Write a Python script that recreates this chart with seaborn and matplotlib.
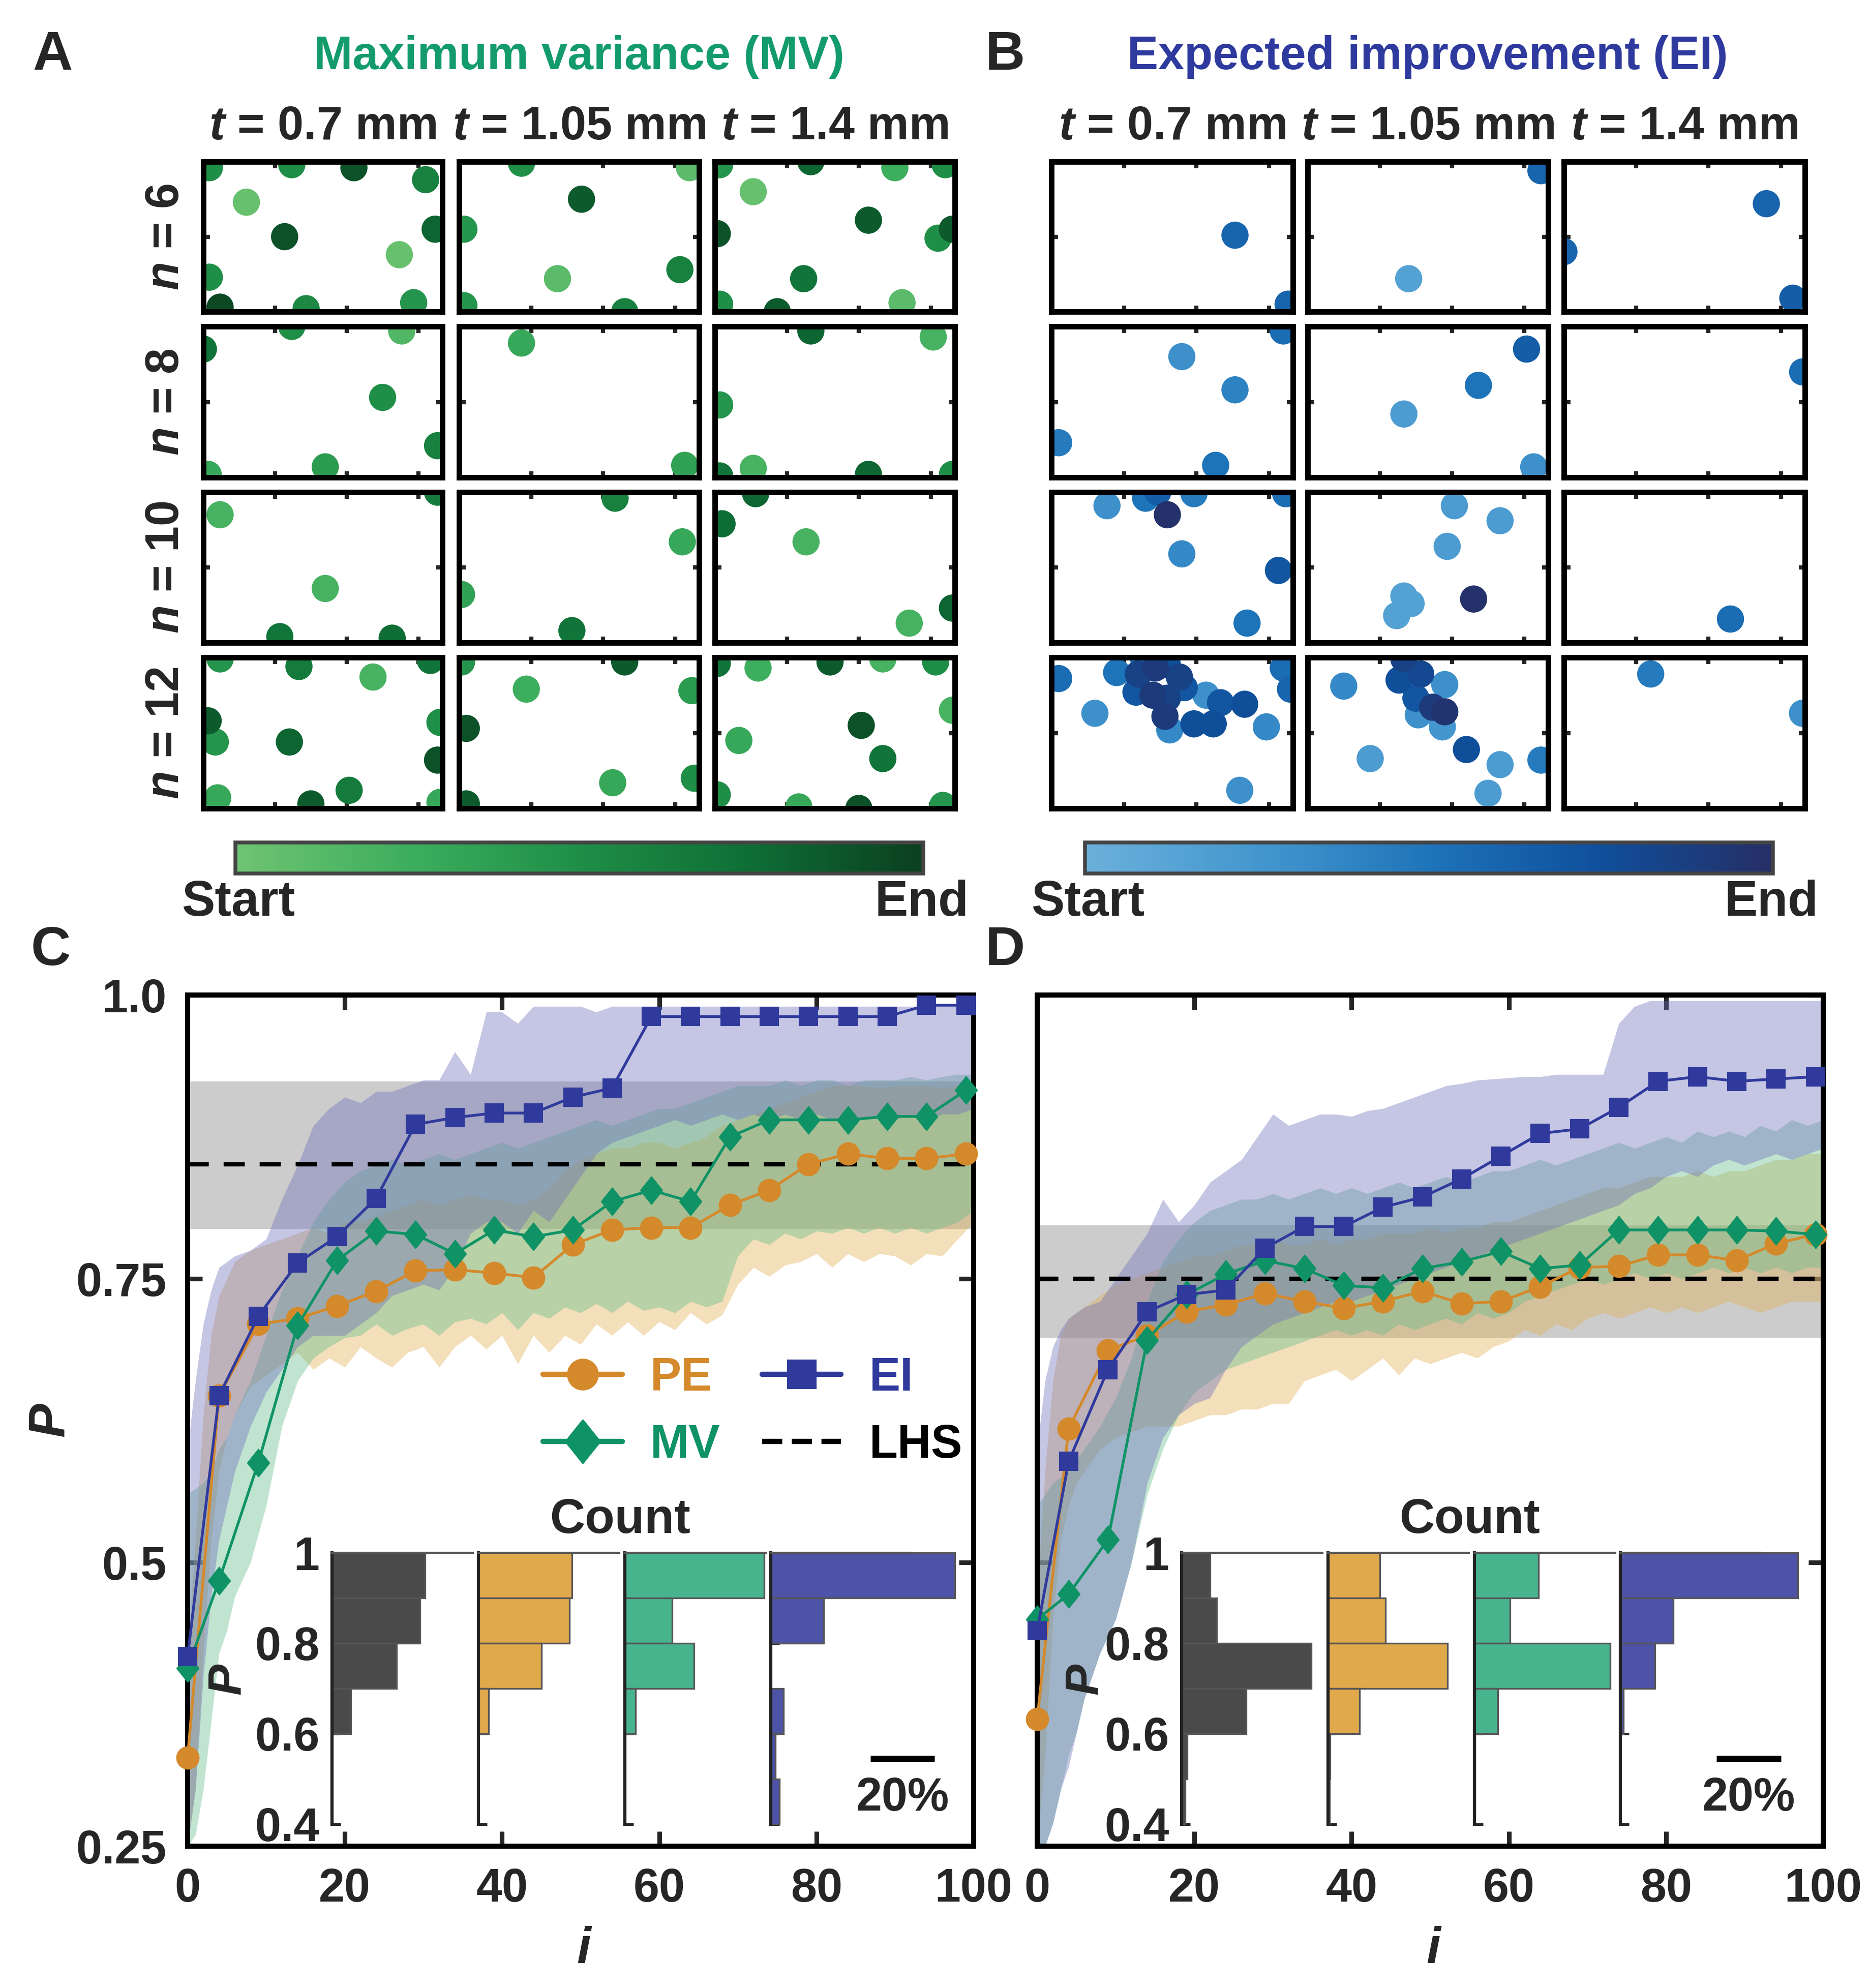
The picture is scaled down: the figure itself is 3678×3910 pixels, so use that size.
import pandas as pd
import matplotlib as mpl
import matplotlib.pyplot as plt
import matplotlib.path as mpath
from matplotlib.colors import LinearSegmentedColormap
from matplotlib.lines import Line2D
import seaborn as sns

W, H = 3678, 3910

# ---------------- data: scatter grids (x, y, order 0=start..1=end) ----------------
MV_N6 = [
    [(0.025, 0.96, 0.5), (0.37, 0.98, 0.5), (0.63, 0.96, 0.9), (0.93, 0.88, 0.6), (0.18, 0.73, 0.05),
     (0.34, 0.50, 0.9), (0.97, 0.55, 0.8), (0.82, 0.38, 0.05), (0.025, 0.23, 0.5), (0.07, 0.03, 0.95),
     (0.43, 0.02, 0.55), (0.88, 0.06, 0.45)],
    [(0.26, 0.99, 0.5), (0.96, 0.96, 0.1), (0.51, 0.75, 0.85), (0.02, 0.55, 0.45), (0.41, 0.22, 0.1),
     (0.92, 0.28, 0.6), (0.02, 0.04, 0.45), (0.69, 0.0, 0.6)],
    [(0.02, 0.98, 0.45), (0.40, 1.0, 0.8), (0.75, 0.96, 0.25), (0.96, 0.98, 0.5), (0.16, 0.80, 0.05),
     (0.64, 0.61, 0.85), (0.01, 0.52, 0.9), (0.93, 0.49, 0.5), (0.99, 0.55, 0.85), (0.37, 0.22, 0.7),
     (0.02, 0.05, 0.5), (0.26, 0.0, 0.85), (0.78, 0.06, 0.1)],
]
MV_N8 = [
    [(0.37, 1.0, 0.5), (0.83, 0.97, 0.15), (0.0, 0.85, 0.7), (0.75, 0.53, 0.5), (0.98, 0.21, 0.6),
     (0.51, 0.07, 0.4), (0.02, 0.02, 0.3)],
    [(0.26, 0.89, 0.3), (0.94, 0.08, 0.35)],
    [(0.40, 0.97, 0.8), (0.91, 0.93, 0.2), (0.02, 0.48, 0.45), (0.16, 0.06, 0.2), (0.02, 0.01, 0.7),
     (0.64, 0.02, 0.8), (0.99, 0.02, 0.5)],
]
MV_N10 = [
    [(0.07, 0.85, 0.2), (0.98, 1.0, 0.65), (0.51, 0.36, 0.2), (0.32, 0.04, 0.7), (0.79, 0.03, 0.75)],
    [(0.65, 0.96, 0.6), (0.93, 0.67, 0.3), (0.01, 0.32, 0.35), (0.47, 0.08, 0.7)],
    [(0.17, 0.99, 0.8), (0.03, 0.79, 0.75), (0.38, 0.67, 0.2), (0.99, 0.23, 0.8), (0.81, 0.13, 0.2)],
]
MV_N12 = [
    [(0.07, 0.99, 0.45), (0.40, 0.94, 0.65), (0.71, 0.87, 0.2), (0.95, 0.98, 0.7), (0.02, 0.58, 0.85),
     (0.05, 0.44, 0.45), (0.36, 0.44, 0.8), (0.99, 0.57, 0.5), (0.98, 0.32, 0.9), (0.06, 0.07, 0.3),
     (0.45, 0.03, 0.85), (0.61, 0.12, 0.65), (0.99, 0.04, 0.3)],
    [(0.01, 0.97, 0.45), (0.69, 0.97, 0.85), (0.28, 0.79, 0.25), (0.97, 0.78, 0.4), (0.03, 0.53, 0.9),
     (0.64, 0.17, 0.3), (0.98, 0.20, 0.5), (0.03, 0.03, 0.85)],
    [(0.01, 0.96, 0.7), (0.18, 0.93, 0.25), (0.48, 0.97, 0.85), (0.70, 0.99, 0.2), (0.92, 0.97, 0.5),
     (0.99, 0.65, 0.2), (0.10, 0.45, 0.3), (0.61, 0.55, 0.9), (0.70, 0.33, 0.7), (0.01, 0.09, 0.5),
     (0.35, 0.01, 0.3), (0.60, 0.0, 0.9), (0.95, 0.02, 0.45)],
]
EI_N6 = [
    [(0.76, 0.51, 0.6), (0.98, 0.05, 0.6)],
    [(0.97, 0.94, 0.6), (0.42, 0.22, 0.15)],
    [(0.84, 0.72, 0.6), (0.0, 0.40, 0.6), (0.95, 0.09, 0.65)],
]
EI_N8 = [
    [(0.96, 0.97, 0.55), (0.54, 0.80, 0.3), (0.76, 0.58, 0.4), (0.03, 0.23, 0.45), (0.68, 0.08, 0.5)],
    [(0.91, 0.85, 0.65), (0.71, 0.61, 0.5), (0.40, 0.42, 0.2), (0.94, 0.07, 0.3)],
    [(0.99, 0.70, 0.55)],
]
EI_N10 = [
    [(0.23, 0.91, 0.3), (0.39, 0.96, 0.5), (0.44, 1.0, 0.65), (0.59, 0.99, 0.45), (0.48, 0.85, 0.98),
     (0.54, 0.59, 0.35), (0.97, 0.99, 0.55), (0.94, 0.48, 0.7), (0.81, 0.13, 0.5)],
    [(0.61, 0.91, 0.2), (0.80, 0.81, 0.2), (0.58, 0.64, 0.2), (0.40, 0.31, 0.15), (0.43, 0.26, 0.15),
     (0.37, 0.18, 0.15), (0.69, 0.29, 0.98)],
    [(0.69, 0.16, 0.55)],
]
EI_N12 = [
    [(0.03, 0.86, 0.55), (0.27, 0.90, 0.5), (0.36, 0.89, 0.85), (0.43, 0.93, 0.9), (0.48, 0.95, 0.75),
     (0.53, 0.87, 0.85), (0.55, 0.80, 0.7), (0.35, 0.77, 0.7), (0.42, 0.75, 0.9), (0.48, 0.73, 0.85),
     (0.38, 1.0, 0.5), (0.64, 0.75, 0.3), (0.49, 0.52, 0.35), (0.47, 0.61, 0.9), (0.59, 0.56, 0.75),
     (0.67, 0.56, 0.75), (0.70, 0.70, 0.7), (0.80, 0.69, 0.75), (0.18, 0.63, 0.3), (0.89, 0.54, 0.35),
     (0.96, 0.93, 0.55), (0.99, 0.79, 0.6), (0.78, 0.12, 0.3)],
    [(0.15, 0.81, 0.35), (0.40, 0.99, 0.85), (0.38, 0.85, 0.75), (0.47, 0.89, 0.8), (0.57, 0.82, 0.3),
     (0.45, 0.73, 0.7), (0.52, 0.67, 0.9), (0.57, 0.64, 0.95), (0.46, 0.62, 0.3), (0.56, 0.54, 0.25),
     (0.66, 0.39, 0.75), (0.26, 0.33, 0.2), (0.80, 0.29, 0.2), (0.97, 0.32, 0.45), (0.75, 0.10, 0.2)],
    [(0.36, 0.89, 0.45), (0.99, 0.63, 0.3)],
]
T_LABELS = ["$t$ = 0.7 mm", "$t$ = 1.05 mm", "$t$ = 1.4 mm"]
N_LABELS = ["$n$ = 6", "$n$ = 8", "$n$ = 10", "$n$ = 12"]

# ---------------- data: convergence curves ----------------
I_MARK = [0, 4, 9, 14, 19, 24, 29, 34, 39, 44, 49, 54, 59, 64, 69, 74, 79, 84, 89, 94, 99]
C_PE = [0.328, 0.647, 0.710, 0.715, 0.726, 0.739, 0.757, 0.758, 0.755, 0.751, 0.780, 0.793, 0.795,
        0.795, 0.815, 0.828, 0.851, 0.860, 0.856, 0.856, 0.860]
C_MV = [0.407, 0.484, 0.588, 0.709, 0.766, 0.792, 0.789, 0.772, 0.793, 0.787, 0.793, 0.818, 0.828,
        0.818, 0.875, 0.890, 0.890, 0.890, 0.893, 0.893, 0.916]
C_EI = [0.417, 0.647, 0.717, 0.764, 0.787, 0.821, 0.886, 0.892, 0.896, 0.896, 0.910, 0.918, 0.981,
        0.981, 0.981, 0.981, 0.981, 0.981, 0.981, 0.991, 0.991]
D_PE = [0.362, 0.618, 0.687, 0.700, 0.721, 0.727, 0.737, 0.730, 0.724, 0.730, 0.739, 0.728, 0.730,
        0.743, 0.760, 0.761, 0.771, 0.771, 0.766, 0.781, 0.789]
D_MV = [0.450, 0.472, 0.520, 0.696, 0.736, 0.754, 0.766, 0.759, 0.744, 0.742, 0.759, 0.765, 0.774,
        0.759, 0.762, 0.793, 0.793, 0.793, 0.793, 0.792, 0.789]
D_EI = [0.440, 0.589, 0.670, 0.721, 0.736, 0.740, 0.777, 0.796, 0.796, 0.813, 0.822, 0.838, 0.858,
        0.878, 0.882, 0.901, 0.924, 0.928, 0.924, 0.926, 0.928]

I_BAND = [0, 1, 2, 3, 4, 5, 6, 8, 10, 12, 14, 16, 18, 20, 22, 24, 26, 28, 30, 32, 34, 36, 38, 40,
          42, 44, 46, 48, 50, 52, 54, 56, 58, 60, 62, 64, 66, 68, 70, 72, 74, 76, 78, 80, 82, 84,
          86, 88, 90, 92, 94, 96, 98, 100]
C_PE_LO = [0.25, 0.30, 0.42, 0.52, 0.58, 0.61, 0.63, 0.655, 0.665, 0.675, 0.685, 0.67, 0.68, 0.672,
           0.69, 0.68, 0.672, 0.685, 0.69, 0.672, 0.69, 0.70, 0.688, 0.70, 0.675, 0.70, 0.685, 0.70,
           0.692, 0.71, 0.70, 0.712, 0.70, 0.712, 0.705, 0.72, 0.71, 0.718, 0.745, 0.76, 0.752,
           0.762, 0.765, 0.772, 0.76, 0.772, 0.765, 0.772, 0.77, 0.762, 0.772, 0.77, 0.785, 0.80]
C_PE_HI = [0.42, 0.52, 0.63, 0.70, 0.735, 0.75, 0.765, 0.775, 0.78, 0.785, 0.79, 0.795, 0.79, 0.80,
           0.80, 0.805, 0.81, 0.815, 0.82, 0.815, 0.82, 0.825, 0.82, 0.82, 0.815, 0.82, 0.83, 0.845,
           0.855, 0.86, 0.865, 0.865, 0.87, 0.87, 0.865, 0.87, 0.875, 0.885, 0.89, 0.895, 0.90,
           0.905, 0.91, 0.915, 0.92, 0.92, 0.92, 0.918, 0.92, 0.92, 0.92, 0.918, 0.92, 0.92]
C_MV_LO = [0.25, 0.26, 0.30, 0.36, 0.42, 0.44, 0.47, 0.50, 0.55, 0.62, 0.66, 0.68, 0.69, 0.698,
           0.70, 0.71, 0.70, 0.706, 0.71, 0.70, 0.712, 0.715, 0.71, 0.72, 0.705, 0.72, 0.715, 0.725,
           0.72, 0.728, 0.72, 0.73, 0.722, 0.725, 0.72, 0.73, 0.725, 0.73, 0.77, 0.785, 0.78, 0.79,
           0.785, 0.792, 0.79, 0.795, 0.79, 0.795, 0.79, 0.795, 0.79, 0.795, 0.80, 0.81]
C_MV_HI = [0.56, 0.565, 0.57, 0.58, 0.60, 0.61, 0.63, 0.66, 0.70, 0.74, 0.77, 0.80, 0.82, 0.835,
           0.845, 0.85, 0.855, 0.85, 0.855, 0.86, 0.855, 0.86, 0.865, 0.87, 0.865, 0.87, 0.875, 0.88,
           0.885, 0.89, 0.885, 0.89, 0.895, 0.90, 0.90, 0.905, 0.91, 0.915, 0.92, 0.92, 0.92, 0.925,
           0.92, 0.925, 0.925, 0.92, 0.925, 0.925, 0.925, 0.928, 0.925, 0.928, 0.93, 0.93]
C_EI_LO = [0.25, 0.30, 0.40, 0.47, 0.52, 0.55, 0.58, 0.62, 0.65, 0.67, 0.69, 0.70, 0.70, 0.70, 0.71,
           0.72, 0.735, 0.74, 0.745, 0.74, 0.76, 0.79, 0.80, 0.80, 0.79, 0.81, 0.80, 0.82, 0.84, 0.86,
           0.87, 0.875, 0.88, 0.885, 0.89, 0.885, 0.89, 0.895, 0.89, 0.895, 0.89, 0.895, 0.89, 0.895,
           0.89, 0.895, 0.89, 0.895, 0.89, 0.895, 0.89, 0.895, 0.895, 0.90]
C_EI_HI = [0.60, 0.66, 0.71, 0.74, 0.76, 0.765, 0.77, 0.775, 0.785, 0.82, 0.85, 0.885, 0.90, 0.91,
           0.905, 0.915, 0.915, 0.92, 0.925, 0.925, 0.95, 0.93, 0.985, 0.985, 0.975, 0.99, 0.99, 0.99,
           0.99, 0.985, 0.99, 0.99, 0.99, 0.99, 0.99, 0.99, 0.99, 0.99, 0.99, 0.99, 0.99, 0.99, 0.99,
           0.99, 0.99, 0.99, 0.99, 0.99, 0.99, 0.99, 0.99, 0.99, 0.99, 0.99]
D_PE_LO = [0.25, 0.33, 0.45, 0.52, 0.55, 0.57, 0.58, 0.60, 0.61, 0.615, 0.62, 0.62, 0.62, 0.625,
           0.63, 0.63, 0.635, 0.635, 0.64, 0.64, 0.66, 0.665, 0.67, 0.66, 0.67, 0.68, 0.665, 0.68,
           0.675, 0.68, 0.685, 0.68, 0.69, 0.695, 0.705, 0.70, 0.71, 0.705, 0.715, 0.72, 0.715, 0.72,
           0.725, 0.72, 0.725, 0.72, 0.725, 0.73, 0.725, 0.72, 0.725, 0.73, 0.73, 0.73]
D_PE_HI = [0.47, 0.58, 0.66, 0.70, 0.715, 0.72, 0.725, 0.735, 0.745, 0.75, 0.755, 0.76, 0.765, 0.77,
           0.77, 0.775, 0.78, 0.78, 0.785, 0.78, 0.78, 0.785, 0.78, 0.785, 0.785, 0.79, 0.79, 0.79,
           0.795, 0.79, 0.795, 0.795, 0.80, 0.80, 0.805, 0.81, 0.815, 0.82, 0.825, 0.83, 0.83, 0.835,
           0.84, 0.84, 0.84, 0.845, 0.84, 0.845, 0.845, 0.85, 0.855, 0.855, 0.86, 0.86]
D_MV_LO = [0.25, 0.25, 0.27, 0.30, 0.33, 0.35, 0.38, 0.42, 0.45, 0.50, 0.56, 0.60, 0.63, 0.65, 0.66,
           0.67, 0.675, 0.68, 0.685, 0.69, 0.695, 0.70, 0.705, 0.70, 0.705, 0.70, 0.71, 0.705, 0.71,
           0.715, 0.71, 0.72, 0.715, 0.72, 0.73, 0.735, 0.74, 0.745, 0.75, 0.745, 0.75, 0.755, 0.75,
           0.755, 0.75, 0.755, 0.76, 0.755, 0.76, 0.755, 0.76, 0.755, 0.76, 0.76]
D_MV_HI = [0.55, 0.56, 0.57, 0.575, 0.58, 0.59, 0.60, 0.62, 0.645, 0.68, 0.73, 0.765, 0.785, 0.80,
           0.81, 0.815, 0.82, 0.82, 0.825, 0.82, 0.825, 0.83, 0.825, 0.83, 0.825, 0.83, 0.835, 0.83,
           0.835, 0.84, 0.835, 0.84, 0.845, 0.845, 0.85, 0.855, 0.85, 0.855, 0.86, 0.865, 0.87,
           0.865, 0.87, 0.875, 0.87, 0.88, 0.875, 0.88, 0.875, 0.885, 0.88, 0.89, 0.885, 0.89]
D_EI_LO = [0.25, 0.25, 0.27, 0.30, 0.32, 0.35, 0.38, 0.42, 0.45, 0.50, 0.57, 0.61, 0.63, 0.64, 0.645,
           0.67, 0.69, 0.70, 0.71, 0.715, 0.72, 0.725, 0.73, 0.73, 0.735, 0.74, 0.745, 0.75, 0.755,
           0.76, 0.765, 0.77, 0.775, 0.78, 0.785, 0.79, 0.795, 0.80, 0.805, 0.81, 0.815, 0.825, 0.83,
           0.84, 0.845, 0.84, 0.85, 0.855, 0.85, 0.855, 0.86, 0.855, 0.86, 0.865]
D_EI_HI = [0.60, 0.66, 0.69, 0.705, 0.715, 0.72, 0.725, 0.73, 0.75, 0.77, 0.79, 0.82, 0.80, 0.815,
           0.835, 0.845, 0.855, 0.875, 0.895, 0.885, 0.89, 0.895, 0.895, 0.893, 0.898, 0.90, 0.905,
           0.91, 0.915, 0.92, 0.922, 0.925, 0.926, 0.927, 0.928, 0.928, 0.93, 0.93, 0.93, 0.93, 0.975,
           0.99, 0.995, 0.995, 0.995, 0.995, 0.995, 0.995, 0.995, 0.995, 0.995, 0.995, 0.995, 0.995]
C_LHS, C_LHS_BAND = 0.851, (0.794, 0.924)
D_LHS, D_LHS_BAND = 0.750, (0.698, 0.797)

# inset histograms: % of runs per P bin (0.9-1.0, 0.8-0.9, ..., 0.4-0.5)
BIN_CENTERS = [0.95, 0.85, 0.75, 0.65, 0.55, 0.45]
C_HIST_LHS = [28.9, 27.3, 20.0, 5.7, 0, 0]
C_HIST_PE = [29.1, 28.3, 19.6, 3.2, 0, 0]
C_HIST_MV = [43.4, 14.7, 21.6, 3.4, 0, 0]
C_HIST_EI = [57.2, 16.4, 0, 4.0, 1.4, 2.6]
D_HIST_LHS = [8.8, 10.9, 40.2, 20.0, 1.6, 1.0]
D_HIST_PE = [16.1, 17.9, 37.2, 9.8, 0.7, 0.4]
D_HIST_MV = [20.0, 11.2, 42.3, 7.4, 0.3, 0.3]
D_HIST_EI = [55.1, 16.5, 10.7, 0.9, 0, 0]

# ---------------- style ----------------
PE_C, MV_C, EI_C = "#D4892B", "#0F9366", "#2F3A9C"
FILL = {"PE": "#E3AF54", "MV": "#62BD8A", "EI": "#6E6EBC"}
BAR = {"LHS": "#4A4A4A", "PE": "#E0A94C", "MV": "#48B48E", "EI": "#4E53A8"}
DIAMOND = mpath.Path([(0, 1), (0.8, 0), (0, -1), (-0.8, 0), (0, 1)], closed=True)
MV_CMAP = LinearSegmentedColormap.from_list("mv", ["#6FC472", "#3DAE5E", "#1F8E47", "#0E6E35", "#0B3F20"])
EI_CMAP = LinearSegmentedColormap.from_list("ei", ["#6BB0DC", "#4497CE", "#1E74B9", "#0F4F9B", "#262E66"])

sns.set_theme(style="white")
plt.rcParams["font.family"] = ["Liberation Sans", "DejaVu Sans"]
plt.rcParams["font.weight"] = "bold"
plt.rcParams["mathtext.fontset"] = "custom"
plt.rcParams["mathtext.it"] = "Liberation Sans:italic:bold"
plt.rcParams["mathtext.rm"] = "Liberation Sans:bold"
plt.rcParams["mathtext.bf"] = "Liberation Sans:bold"

fig = plt.figure(figsize=(W / 300, H / 300), dpi=300)
FS = 22


def px_axes(x0, y0, x1, y1):
    return fig.add_axes([x0 / W, 1 - y1 / H, (x1 - x0) / W, (y1 - y0) / H])


def ftext(x, y, s, **kw):
    fig.text(x / W, 1 - y / H, s, ha=kw.pop("ha", "center"), va=kw.pop("va", "center"), **kw)


# ---------------- panels A and B ----------------
ROW_Y = [(318, 613), (642, 939), (968, 1264), (1293, 1590)]
A_COLS = [(400, 870), (903, 1375), (1406, 1878)]
B_COLS = [(2068, 2543), (2572, 3045), (3076, 3550)]


def grid_panel(rows, cols, cmap):
    for r, row in enumerate(rows):
        for c, pts in enumerate(row):
            ax = px_axes(cols[c][0], ROW_Y[r][0], cols[c][1], ROW_Y[r][1])
            df = pd.DataFrame(sorted(pts, key=lambda p: p[2]), columns=["x", "y", "c"])
            sns.scatterplot(data=df, x="x", y="y", hue="c", palette=cmap, hue_norm=(0, 1),
                            s=165, linewidth=0, legend=False, ax=ax)
            ax.set(xlim=(0, 1), ylim=(0, 1), xlabel="", ylabel="")
            ax.set_xticks([0.3, 0.6, 0.9])
            ax.set_yticks([0.5])
            ax.tick_params(direction="in", length=3, width=2, top=True, right=True, bottom=True,
                           left=True, labelbottom=False, labelleft=False)
            for s in ax.spines.values():
                s.set_linewidth(2.6)
                s.set_color("black")


grid_panel([MV_N6, MV_N8, MV_N10, MV_N12], A_COLS, MV_CMAP)
grid_panel([EI_N6, EI_N8, EI_N10, EI_N12], B_COLS, EI_CMAP)

for cols in (A_COLS, B_COLS):
    for (x0, x1), lab in zip(cols, T_LABELS):
        ftext((x0 + x1) / 2, 250, lab, fontsize=FS)
for (y0, y1), lab in zip(ROW_Y, N_LABELS):
    ftext(327, (y0 + y1) / 2, lab, fontsize=FS, rotation=90)

ftext(103, 109, "A", fontsize=26)
ftext(1977, 109, "B", fontsize=26)
ftext(1139, 112, "Maximum variance (MV)", fontsize=FS, color="#139B6B")
ftext(2808, 112, "Expected improvement (EI)", fontsize=FS, color="#2E3A9E")

for (x0, x1), cmap in (((463, 1816), MV_CMAP), ((2134, 3487), EI_CMAP)):
    cax = px_axes(x0, 1657, x1, 1718)
    cb = mpl.colorbar.ColorbarBase(cax, cmap=cmap, orientation="horizontal", ticks=[0.25, 0.5, 0.75])
    cb.outline.set_linewidth(1.8)
    cb.outline.set_edgecolor("#444444")
    cax.tick_params(direction="in", length=4, width=1.5, labelbottom=False, colors="#222222")
    ftext(x0 + 6, 1775, "Start", fontsize=23.5)
    ftext(x1 - 3, 1775, "End", fontsize=23.5)

# ---------------- panels C and D ----------------
AX_TOP, AX_BOT = 1957, 3631


def curve_panel(left, means, bands, lhs, lhs_band, hists, bar_x, p_off, first):
    ax = px_axes(left, AX_TOP, left + 1546, AX_BOT)
    ax.axhspan(*lhs_band, color="#808080", alpha=0.4, lw=0, zorder=1)
    for key in ("PE", "MV", "EI"):
        lo, hi = bands[key]
        ax.fill_between(I_BAND, lo, hi, color=FILL[key], alpha=0.4, lw=0, zorder=2)
    ax.axhline(lhs, color="black", lw=2, ls=(0, (5, 3.5)), zorder=3)
    style = {"PE": (PE_C, "o", 10.5), "MV": (MV_C, DIAMOND, 13), "EI": (EI_C, "s", 8.5)}
    for z, key in enumerate(("PE", "MV", "EI")):
        col, mk, ms = style[key]
        df = pd.DataFrame({"i": I_MARK, "P": means[key]})
        sns.lineplot(data=df, x="i", y="P", color=col, marker=mk, markersize=ms,
                     markeredgecolor=col, markeredgewidth=0.5, lw=1.3, ax=ax,
                     zorder=5 + z, clip_on=False)
    ax.set(xlim=(0, 100), ylim=(0.25, 1.0), xlabel="", ylabel="")
    ax.set_xticks([0, 20, 40, 60, 80, 100])
    ax.set_yticks([0.25, 0.5, 0.75, 1.0])
    ax.set_yticklabels(["0.25", "0.5", "0.75", "1.0"])
    ax.tick_params(direction="in", length=7, width=2.2, top=True, right=True, bottom=True, left=True,
                   labelsize=FS, pad=10, labelleft=first)
    for s in ax.spines.values():
        s.set_linewidth(2.4)
        s.set_color("black")
    ax.set_xlabel("$i$", fontsize=24)
    ax.xaxis.set_label_coords(0.505, -0.094)
    if first:
        ax.set_ylabel("$P$", fontsize=24)
        ax.yaxis.set_label_coords(-0.143, 0.5)

    # inset histograms
    for n, (key, vals) in enumerate(hists):
        x0 = left + [18.4, 37.0, 55.6, 74.2][n] * 15.46
        iax = px_axes(x0, 3054, x0 + 277, 3588)
        iax.patch.set_alpha(0)
        iax.barh(BIN_CENTERS, vals, height=0.1, color=BAR[key], edgecolor="#555555", lw=0.8,
                 clip_on=False)
        iax.set(xlim=(0, 43.8), ylim=(0.4, 1.0))
        iax.set_xticks([])
        iax.set_yticks([0.4, 0.6, 0.8, 1.0])
        iax.set_yticklabels(["0.4", "0.6", "0.8", "1"])
        iax.tick_params(axis="y", direction="in", length=4, width=1.2, left=True,
                        labelleft=(n == 0), labelsize=FS, pad=6)
        iax.spines["right"].set_visible(False)
        iax.spines["bottom"].set_visible(False)
        iax.spines["left"].set_linewidth(1.5)
        iax.spines["left"].set_color("#222222")
        iax.spines["top"].set_linewidth(1.0)
        iax.spines["top"].set_color("#555555")
    ftext(left + p_off, 3303, "$P$", fontsize=FS, rotation=90)
    ax.text(55, 0.537, "Count", ha="center", va="center", fontsize=23)
    ax.plot(bar_x, [0.327, 0.327], color="black", lw=3, solid_capstyle="butt", clip_on=False, zorder=8)
    ax.text(sum(bar_x) / 2, 0.292, "20%", ha="center", va="center", fontsize=FS)
    return ax


ax_c = curve_panel(369, {"PE": C_PE, "MV": C_MV, "EI": C_EI},
                   {"PE": (C_PE_LO, C_PE_HI), "MV": (C_MV_LO, C_MV_HI), "EI": (C_EI_LO, C_EI_HI)},
                   C_LHS, C_LHS_BAND,
                   [("LHS", C_HIST_LHS), ("PE", C_HIST_PE), ("MV", C_HIST_MV), ("EI", C_HIST_EI)],
                   [86.9, 95.0], 82, True)
ax_d = curve_panel(2040, {"PE": D_PE, "MV": D_MV, "EI": D_EI},
                   {"PE": (D_PE_LO, D_PE_HI), "MV": (D_MV_LO, D_MV_HI), "EI": (D_EI_LO, D_EI_HI)},
                   D_LHS, D_LHS_BAND,
                   [("LHS", D_HIST_LHS), ("PE", D_HIST_PE), ("MV", D_HIST_MV), ("EI", D_HIST_EI)],
                   [86.4, 94.6], 96, False)

ftext(100, 1870, "C", fontsize=26)
ftext(1977, 1870, "D", fontsize=26)

handles = [
    Line2D([], [], color=PE_C, lw=2.5, marker="o", ms=14, mec=PE_C),
    Line2D([], [], color=MV_C, lw=2.5, marker=DIAMOND, ms=20, mec=MV_C),
    Line2D([], [], color=EI_C, lw=2.5, marker="s", ms=13, mec=EI_C),
    Line2D([], [], color="black", lw=2.5, ls=(0, (3.8, 1.8))),
]
leg = ax_c.legend(handles, ["PE", "MV", "EI", "LHS"], ncol=2, loc="upper left",
                  bbox_to_anchor=(0.452, 0.575), frameon=False, fontsize=FS, handlelength=1.7,
                  handletextpad=0.6, columnspacing=0.9, labelspacing=0.5, borderpad=0,
                  borderaxespad=0)
for t, col in zip(leg.get_texts(), [PE_C, MV_C, EI_C, "black"]):
    t.set_color(col)

fig.savefig("out.png", dpi=300)
